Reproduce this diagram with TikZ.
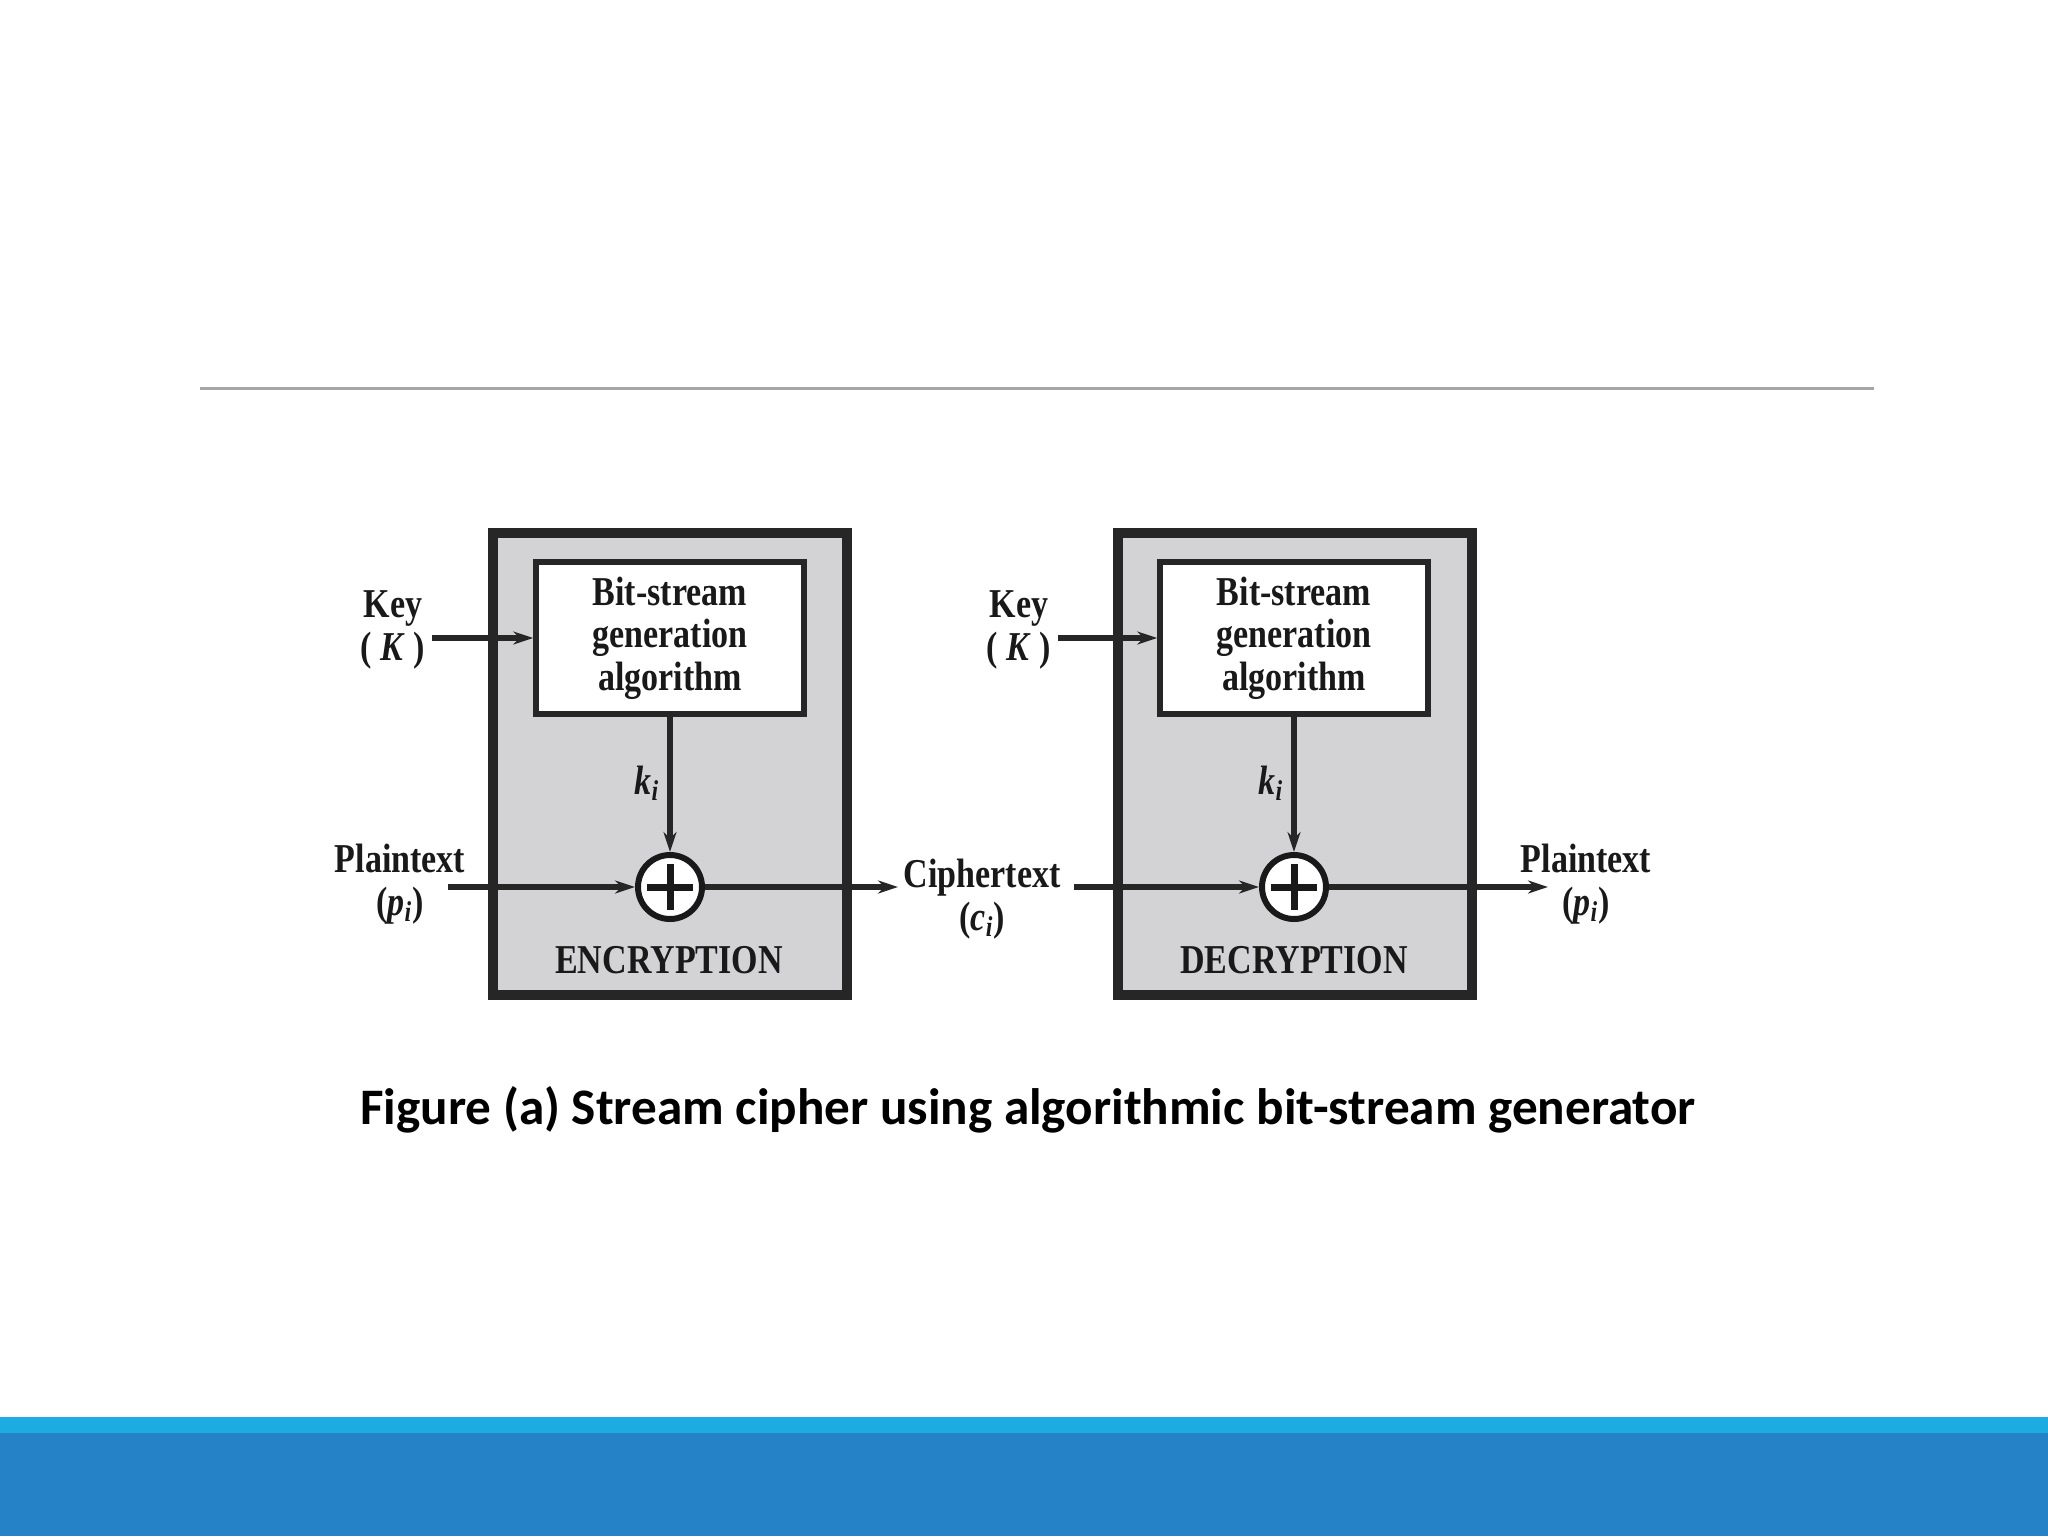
\documentclass[tikz,border=0pt]{standalone}
\usepackage{fontspec}
\usepackage{xcolor}
\usepackage{tikz}
\usetikzlibrary{arrows.meta}
\newfontfamily\figfont[FakeStretch=0.83]{Liberation Serif}
\newfontfamily\capfont{Carlito}
\definecolor{panelgray}{RGB}{211,211,213}
\definecolor{rulegray}{RGB}{166,166,166}
\definecolor{barlight}{RGB}{29,172,225}
\definecolor{bardark}{RGB}{38,130,198}

\begin{document}
\begin{tikzpicture}[
    x=0.5pt, y=-0.5pt,
    lbl/.style={font=\figfont\bfseries\fontsize{20.5}{21.3}\selectfont, align=center, text=black!90},
    panel/.style={draw=black!85, line width=5pt, fill=panelgray, minimum width=177pt, minimum height=231pt},
    genbox/.style={lbl, draw=black!85, line width=2.8pt, fill=white, minimum width=134pt, minimum height=76pt, inner sep=0pt},
    xorop/.style={circle, draw=black!90, line width=3pt, fill=white, minimum size=32pt, inner sep=0pt,
        path picture={
            \draw[line width=3.5pt] ([xshift=4.5pt]path picture bounding box.west) -- ([xshift=-4.5pt]path picture bounding box.east);
            \draw[line width=3.5pt] ([yshift=-4.5pt]path picture bounding box.north) -- ([yshift=4.5pt]path picture bounding box.south);
        }},
    arrow/.style={-{Stealth[length=10pt,width=6.5pt]}, line width=2.6pt, draw=black!85}
]
\useasboundingbox (0,0) rectangle (2048,1536);
\fill[barlight] (0,1417) rectangle (2048,1433);
\fill[bardark] (0,1433) rectangle (2048,1536);
\draw[rulegray, line width=1.5pt] (200,388) -- (1874,388);

\node[panel] (encpanel) at (669.5,764) {};
\node[panel] (decpanel) at (1294.5,764) {};
\node[genbox] (encgen) at (670,638) {Bit-stream\\generation\\algorithm};
\node[genbox] (decgen) at (1294,638) {Bit-stream\\generation\\algorithm};
\node[xorop] (encxor) at (670,887) {};
\node[xorop] (decxor) at (1294,887) {};

\node[lbl] (enckey) at (393,630) {Key\\( \textit{K} )};
\node[lbl] (deckey) at (1019,630) {Key\\( \textit{K} )};
\node[lbl] (encki) at (647,783) {\textit{k}\textsubscript{\textit{i}}};
\node[lbl] (decki) at (1271,783) {\textit{k}\textsubscript{\textit{i}}};
\node[lbl] (ptin) at (400,884) {Plaintext\\(\textit{p}\textsubscript{\textit{i}})};
\node[lbl] (ctlbl) at (982,899) {Ciphertext\\(\textit{c}\textsubscript{\textit{i}})};
\node[lbl] (ptout) at (1586,884) {Plaintext\\(\textit{p}\textsubscript{\textit{i}})};
\node[lbl] (encname) at (669,960) {ENCRYPTION};
\node[lbl] (decname) at (1294,960) {DECRYPTION};

\coordinate (ptstart) at (448,887);
\coordinate (ctend) at (898,887);
\coordinate (ctstart) at (1074,887);
\coordinate (ptend) at (1548,887);

\draw[arrow] (enckey.east |- encgen.west) -- (encgen.west);
\draw[arrow] (deckey.east |- decgen.west) -- (decgen.west);
\draw[arrow] (encgen.south) -- (encxor.north);
\draw[arrow] (decgen.south) -- (decxor.north);
\draw[arrow] (ptstart) -- (encxor.west);
\draw[arrow] (encxor.east) -- (ctend);
\draw[arrow] (ctstart) -- (decxor.west);
\draw[arrow] (decxor.east) -- (ptend);

\node[font=\capfont\bfseries\fontsize{25.6}{30}\selectfont] (caption) at (1028,1110) {Figure (a) Stream cipher using algorithmic bit-stream generator};
\end{tikzpicture}
\end{document}
